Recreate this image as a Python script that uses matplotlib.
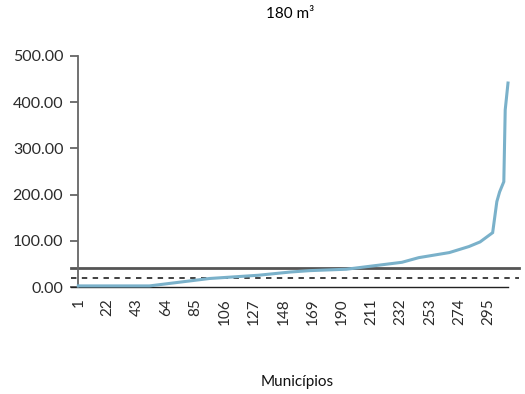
import matplotlib
matplotlib.use("Agg")
import matplotlib.pyplot as plt

plt.rcParams['font.family'] = ['Lato', 'DejaVu Sans']

# Data (rank of municipality, value)
n_municipios = 309
rank = [1, 52, 95, 130, 153, 167, 193, 233, 245, 267, 281, 289, 298, 301, 303, 306, 307, 309]
valor = [3, 3, 19, 26, 33, 36, 39, 54, 64, 75, 88, 98, 118, 185, 206, 228, 383, 441]
linha_solida = 41.8
linha_tracejada = 21.0
tick_pos = list(range(1, 296, 21))
tick_labels = [str(t) for t in tick_pos]
yticks = [0, 100, 200, 300, 400, 500]
title = "180 m³"
xlabel = "Municípios"

W, H = 525, 394
fig = plt.figure(figsize=(W / 100, H / 100), dpi=100)
left, right, bottom, top = 78.3, 508.0, 287.3, 55.7
ax = fig.add_axes([left / W, 1 - bottom / H, (right - left) / W, (bottom - top) / H])

ax.plot(rank, valor, color='#7AB1CA', lw=2.2, solid_joinstyle='miter', clip_on=False, zorder=3)
ax.set_xlim(1, n_municipios)
ax.set_ylim(0, 500)

ytr = ax.get_yaxis_transform()
x0 = (71 - left) / (right - left)
x1 = (519 - left) / (right - left)
ax.plot([x0, x1], [linha_solida] * 2, transform=ytr, color='#555555', lw=2.0, clip_on=False, zorder=2)
ax.plot([x0, x1], [linha_tracejada] * 2, transform=ytr, color='#333333', lw=1.3,
        ls=(0, (3, 3)), clip_on=False, zorder=2)
ax.plot([x0, 1.0], [0, 0], transform=ytr, color='#222222', lw=1.0, clip_on=False, zorder=2)

for s in ['top', 'right', 'bottom']:
    ax.spines[s].set_visible(False)
ax.spines['left'].set_color('#666666')
ax.spines['left'].set_linewidth(1.3)

ax.set_yticks(yticks)
ax.set_yticklabels([f"{v:.2f}" for v in yticks])
ax.tick_params(axis='y', direction='out', length=5.8, width=1.3, color='#666666',
               labelsize=11.5, labelcolor='#2b2b2b', pad=5)
ax.set_xticks(tick_pos)
ax.set_xticklabels(tick_labels, rotation=90)
ax.tick_params(axis='x', length=0, labelsize=11, labelcolor='#2b2b2b', pad=8)

fig.text(290 / W, 1 - 14 / H, title, ha='center', va='center', fontsize=11, color='#000000')
fig.text(297 / W, 1 - 382 / H, xlabel, ha='center', va='center', fontsize=11, color='#111111')

fig.savefig("out.png", dpi=100)
